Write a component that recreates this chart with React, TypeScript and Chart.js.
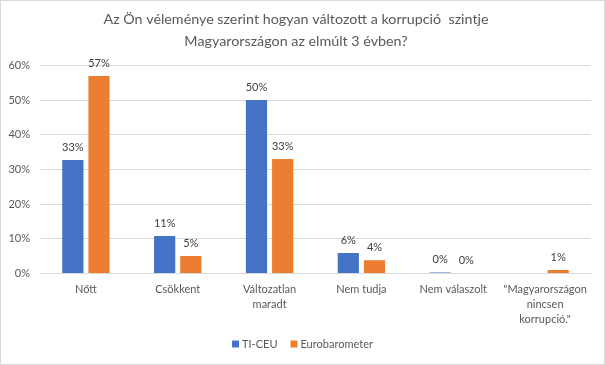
import React, { useEffect, useRef } from "react";
import { Chart, registerables } from "chart.js";

Chart.register(...registerables);

const titleLines = [
  "Az Ön véleménye szerint hogyan változott a korrupció  szintje",
  "Magyarországon az elmúlt 3 évben?",
];
const categories: (string | string[])[] = [
  "Nőtt",
  "Csökkent",
  ["Változatlan", "maradt"],
  "Nem tudja",
  "Nem válaszolt",
  ['"Magyarországon', "nincsen", 'korrupció."'],
];
const seriesNames = ["TI-CEU", "Eurobarometer"];
const seriesColors = ["#4472C4", "#ED7D31"];
const tiCeu: (number | null)[] = [32.7, 10.8, 50.0, 5.9, 0.3, null];
const eurobarometer: (number | null)[] = [56.9, 5.0, 33.0, 3.8, 0, 1.0];
const yTicks = [0, 10, 20, 30, 40, 50, 60];

const FONT = "Lato, 'Open Sans', sans-serif";
const TEXT = "#595959";

const dataLabelPlugin = {
  id: "dataLabels",
  afterDatasetsDraw(chart: any) {
    const ctx = chart.ctx;
    ctx.save();
    ctx.font = `11px ${FONT}`;
    ctx.fillStyle = "#404040";
    ctx.textAlign = "center";
    ctx.textBaseline = "middle";
    chart.data.datasets.forEach((ds: any, di: number) => {
      const meta = chart.getDatasetMeta(di);
      meta.data.forEach((el: any, i: number) => {
        const v = ds.data[i];
        if (v === null || v === undefined) return;
        ctx.fillText(Math.round(v) + "%", el.x, el.y - 13);
      });
    });
    ctx.restore();
  },
};

const bottomLegendPlugin = {
  id: "bottomLegend",
  afterDraw(chart: any) {
    const ctx = chart.ctx;
    ctx.save();
    ctx.font = `11px ${FONT}`;
    ctx.textBaseline = "middle";
    ctx.textAlign = "left";
    const box = 7;
    const boxGap = 3;
    const itemGap = 13;
    const items = chart.data.datasets.map((ds: any) => ({
      text: ds.label,
      color: ds.backgroundColor,
      w: box + boxGap + ctx.measureText(ds.label).width,
    }));
    const total =
      items.reduce((s: number, it: any) => s + it.w, 0) + itemGap * (items.length - 1);
    let x = (chart.width - total) / 2;
    const y = chart.height - 20;
    items.forEach((it: any) => {
      ctx.fillStyle = it.color;
      ctx.fillRect(x, y - box / 2, box, box);
      ctx.fillStyle = TEXT;
      ctx.fillText(it.text, x + box + boxGap, y + 0.5);
      x += it.w + itemGap;
    });
    ctx.restore();
  },
};

export default function App() {
  const ref = useRef<HTMLCanvasElement>(null);
  useEffect(() => {
    document.body.style.margin = "0";
    const chart = new Chart(ref.current!, {
      type: "bar",
      data: {
        labels: categories,
        datasets: [
          {
            label: seriesNames[0],
            data: tiCeu,
            backgroundColor: seriesColors[0],
            categoryPercentage: 0.57,
            barPercentage: 0.81,
          },
          {
            label: seriesNames[1],
            data: eurobarometer,
            backgroundColor: seriesColors[1],
            categoryPercentage: 0.57,
            barPercentage: 0.81,
          },
        ],
      },
      options: {
        animation: false,
        responsive: false,
        maintainAspectRatio: false,
        layout: { padding: { left: 0, right: 13, top: 0, bottom: 29 } },
        plugins: {
          title: {
            display: true,
            text: titleLines,
            color: TEXT,
            font: { family: FONT, size: 14.3, weight: "normal", lineHeight: 1.55 },
            padding: { top: 7, bottom: 13 },
          },
          legend: { display: false },
          tooltip: { enabled: false },
        },
        scales: {
          x: {
            grid: { display: false, drawTicks: false },
            border: { display: true, color: "#d9d9d9" },
            ticks: {
              color: TEXT,
              font: { family: FONT, size: 11, lineHeight: 1.38 },
              maxRotation: 0,
              autoSkip: false,
              padding: 8,
            },
          },
          y: {
            min: 0,
            max: 60,
            afterBuildTicks: (axis: any) => {
              axis.ticks = yTicks.map((v) => ({ value: v }));
            },
            afterFit: (axis: any) => {
              axis.width = 39;
            },
            grid: { color: "#d9d9d9", drawTicks: false },
            border: { display: false },
            ticks: {
              color: TEXT,
              font: { family: FONT, size: 11 },
              padding: 10,
              callback: (v: any) => v + "%",
            },
          },
        },
      },
      plugins: [dataLabelPlugin, bottomLegendPlugin],
    });
    return () => chart.destroy();
  }, []);
  return (
    <div
      style={{
        width: 605,
        height: 365,
        boxSizing: "border-box",
        border: "1px solid #d9d9d9",
        background: "#fff",
      }}
    >
      <canvas ref={ref} width={603} height={363} />
    </div>
  );
}
